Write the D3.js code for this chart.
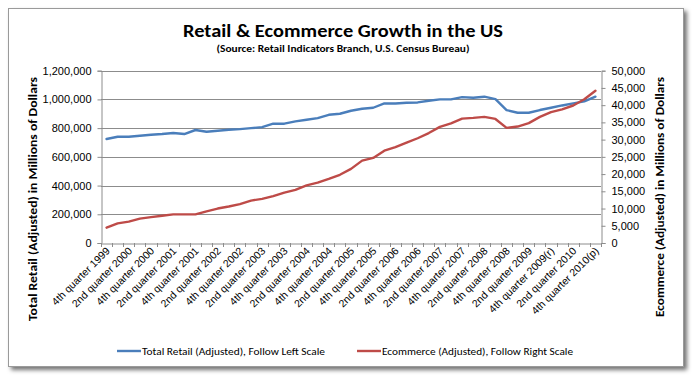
<!DOCTYPE html>
<html><head><meta charset="utf-8">
<script src="https://cdn.jsdelivr.net/npm/d3@7"></script>
<style>
html,body{margin:0;padding:0;background:#fff;}
svg{display:block;font-family:Carlito,Lato,"Open Sans",sans-serif;}
</style></head>
<body>
<svg id="c" width="693" height="382"></svg>
<script>
const categories = [
"4th quarter 1999","1st quarter 2000","2nd quarter 2000","3rd quarter 2000","4th quarter 2000",
"1st quarter 2001","2nd quarter 2001","3rd quarter 2001","4th quarter 2001",
"1st quarter 2002","2nd quarter 2002","3rd quarter 2002","4th quarter 2002",
"1st quarter 2003","2nd quarter 2003","3rd quarter 2003","4th quarter 2003",
"1st quarter 2004","2nd quarter 2004","3rd quarter 2004","4th quarter 2004",
"1st quarter 2005","2nd quarter 2005","3rd quarter 2005","4th quarter 2005",
"1st quarter 2006","2nd quarter 2006","3rd quarter 2006","4th quarter 2006",
"1st quarter 2007","2nd quarter 2007","3rd quarter 2007","4th quarter 2007",
"1st quarter 2008","2nd quarter 2008","3rd quarter 2008","4th quarter 2008",
"1st quarter 2009","2nd quarter 2009","3rd quarter 2009","4th quarter 2009(r)",
"1st quarter 2010","2nd quarter 2010","3rd quarter 2010","4th quarter 2010(p)"];

const totalRetail = [
724000,740000,740000,747000,754000,759000,766000,759000,787000,775000,
782000,789000,793000,800000,807000,831000,831000,847000,858000,870000,
893000,900000,921000,935000,942000,972000,972000,977000,979000,991000,
1000000,1000000,1016000,1012000,1019000,1002000,926000,907000,907000,926000,
942000,958000,972000,986000,1019000];

const ecommerce = [
4450,5700,6200,7060,7500,7900,8300,8300,8300,9200,
10000,10600,11300,12300,12800,13600,14600,15400,16700,17500,
18600,19800,21500,23900,24700,26800,27800,29100,30400,31900,
33700,34700,36100,36300,36600,36000,33400,33800,34800,36600,
38000,38800,39900,41700,44200];

const leftTicks = [0,200000,400000,600000,800000,1000000,1200000];
const rightTicks = [0,5000,10000,15000,20000,25000,30000,35000,40000,45000,50000];

const titleText = "Retail & Ecommerce Growth in the US";
const subtitleText = "(Source: Retail Indicators Branch, U.S. Census Bureau)";
const leftTitle = "Total Retail (Adjusted) in Millions of Dollars";
const rightTitle = "Ecommerce (Adjusted) in Millions of Dollars";
const seriesNames = ["Total Retail (Adjusted), Follow Left Scale","Ecommerce (Adjusted), Follow Right Scale"];

const BLUE = "#4a7ebb", RED = "#be4b48", GRID = "#8c8c8c";
const svg = d3.select("#c");

// frame with shadow
const defs = svg.append("defs");
const f = defs.append("filter").attr("id","sh").attr("x","-5%").attr("y","-5%").attr("width","110%").attr("height","115%");
f.append("feDropShadow").attr("dx",3).attr("dy",3).attr("stdDeviation",2).attr("flood-color","#000").attr("flood-opacity",0.55);
svg.append("rect").attr("x",8.5).attr("y",8.5).attr("width",675).attr("height",358)
  .attr("fill","#fff").attr("stroke","#9a9a9a").attr("filter","url(#sh)");

const L = 101, R = 601, T = 70.7, B = 243;
const x = d3.scaleBand().domain(categories).range([L,R]).padding(0);
const yL = d3.scaleLinear().domain([0,1200000]).range([B,T]);
const yR = d3.scaleLinear().domain([0,50000]).range([B,T]);
const cx = d => x(d) + x.bandwidth()/2;

// gridlines
svg.append("g").selectAll("line").data(leftTicks.slice(1)).join("line")
  .attr("x1",L).attr("x2",R).attr("y1",d=>Math.round(yL(d))+0.5).attr("y2",d=>Math.round(yL(d))+0.5)
  .attr("stroke",GRID).attr("stroke-width",1);

// left axis
const fmt = d3.format(",");
const gL = svg.append("g").attr("transform",`translate(${L+0.5},0)`)
  .call(d3.axisLeft(yL).tickValues(leftTicks).tickFormat(fmt).tickSize(4).tickPadding(6));
// right axis
const gR = svg.append("g").attr("transform",`translate(${R+0.5},0)`)
  .call(d3.axisRight(yR).tickValues(rightTicks).tickFormat(fmt).tickSize(4).tickPadding(6));
// bottom axis
const gB = svg.append("g").attr("transform",`translate(0,${B+0.5})`)
  .call(d3.axisBottom(x).tickValues(categories.filter((d,i)=>i%2===0)).tickSize(0).tickPadding(0));
[gL,gR,gB].forEach(g=>{
  g.selectAll(".domain").attr("stroke",GRID);
  g.selectAll(".tick line").attr("stroke",GRID);
  g.selectAll("text").attr("fill","#000").style("font-size","11px").style("font-family","inherit");
});
// category boundary ticks on x axis
const bounds = categories.map(d=>x(d)).concat([R]);
svg.append("g").selectAll("line").data(bounds).join("line")
  .attr("x1",d=>Math.round(d)+0.5).attr("x2",d=>Math.round(d)+0.5).attr("y1",B).attr("y2",B+4)
  .attr("stroke",GRID);
gB.selectAll("text")
  .attr("text-anchor","end").attr("dy",0).attr("y",0)
  .attr("transform","translate(4,8) rotate(-45)")
  .style("font-size","10.5px");

// lines
const lineL = d3.line().x((d,i)=>cx(categories[i])).y(d=>yL(d));
const lineR = d3.line().x((d,i)=>cx(categories[i])).y(d=>yR(d));
svg.append("path").datum(totalRetail).attr("d",lineL).attr("fill","none")
  .attr("stroke",BLUE).attr("stroke-width",2.4).attr("stroke-linejoin","round").attr("stroke-linecap","round");
svg.append("path").datum(ecommerce).attr("d",lineR).attr("fill","none")
  .attr("stroke",RED).attr("stroke-width",2.4).attr("stroke-linejoin","round").attr("stroke-linecap","round");

// titles
svg.append("text").attr("x",343).attr("y",37).attr("text-anchor","middle")
  .style("font-size","19px").style("font-weight","bold").attr("textLength",320).attr("lengthAdjust","spacingAndGlyphs").text(titleText);
svg.append("text").attr("x",343).attr("y",52).attr("text-anchor","middle")
  .style("font-size","10px").style("font-weight","bold").attr("textLength",253).attr("lengthAdjust","spacingAndGlyphs").text(subtitleText);
svg.append("text").attr("transform","translate(37,199) rotate(-90)").attr("text-anchor","middle")
  .style("font-size","11px").style("font-weight","bold").attr("textLength",244).attr("lengthAdjust","spacingAndGlyphs").text(leftTitle);
svg.append("text").attr("transform","translate(664,197) rotate(-90)").attr("text-anchor","middle")
  .style("font-size","11px").style("font-weight","bold").attr("textLength",240).attr("lengthAdjust","spacingAndGlyphs").text(rightTitle);

// legend
const leg = [{x:117,c:BLUE,t:seriesNames[0],w:183},{x:357,c:RED,t:seriesNames[1],w:191}];
const lg = svg.append("g").selectAll("g").data(leg).join("g");
lg.append("line").attr("x1",d=>d.x).attr("x2",d=>d.x+24).attr("y1",351).attr("y2",351)
  .attr("stroke",d=>d.c).attr("stroke-width",2.4);
lg.append("text").attr("x",d=>d.x+25).attr("y",355).style("font-size","11px")
  .attr("textLength",d=>d.w).attr("lengthAdjust","spacingAndGlyphs").text(d=>d.t);
</script>
</body></html>
